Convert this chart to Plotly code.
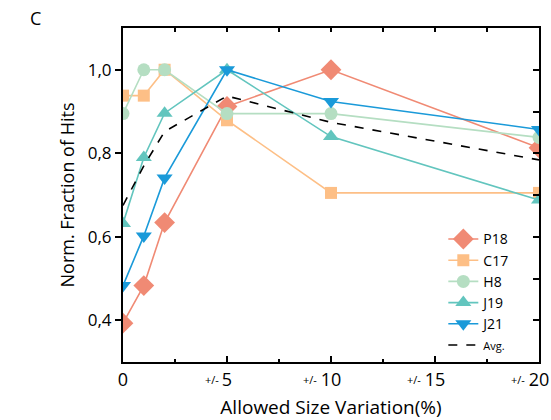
import plotly.graph_objects as go

# Allowed size variation (%) at which each sample was scored
variation = [0, 1, 2, 5, 10, 20]

# Normalised fraction of hits per sample
p18 = [0.393, 0.483, 0.634, 0.912, 1.000, 0.813]
c17 = [0.938, 0.938, 1.000, 0.879, 0.705, 0.705]
h8 = [0.895, 1.000, 1.000, 0.895, 0.895, 0.838]
j19 = [0.632, 0.790, 0.896, 1.000, 0.840, 0.688]
j21 = [0.483, 0.602, 0.741, 1.000, 0.924, 0.857]
avg = [0.675, 0.770, 0.852, 0.937, 0.874, 0.784]

x_tick_vals = [0, 5, 10, 15, 20]
x_tick_text = ["0", "5", "10", "15", "20"]
y_tick_vals = [0.4, 0.6, 0.8, 1.0]
y_tick_text = ["0,4", "0,6", "0,8", "1,0"]

FONT = "Open Sans"

series = [
    ("P18", p18, "#F08A74", "diamond", 16),
    ("C17", c17, "#FDBF86", "square", 12),
    ("H8", h8, "#B5DEC2", "circle", 13),
    ("J19", j19, "#62C5BE", "triangle-up", 14),
    ("J21", j21, "#1A9AD9", "triangle-down", 14),
]

fig = go.Figure()
for name, vals, color, symbol, size in series:
    fig.add_trace(go.Scatter(
        x=variation, y=vals, name=name, mode="lines+markers",
        line=dict(color=color, width=1.6),
        marker=dict(color=color, symbol=symbol, size=size),
    ))

fig.add_trace(go.Scatter(
    x=variation, y=avg, name="<span style='font-size:11px'>Avg.</span>",
    mode="lines", line=dict(color="black", width=1.6, dash="dash"),
))

axis_common = dict(showgrid=False, zeroline=False, linecolor="black",
                   linewidth=2, tickcolor="black", tickwidth=1.5,
                   automargin=False)

# Small "+/-" prefixes set just left of each non-zero tick number
annotations = []
for val, label in zip(x_tick_vals, x_tick_text):
    if val == 0:
        continue
    half_width = 5.5 * len(label)
    annotations.append(dict(
        text="+/-", x=val, xref="x", y=0, yref="paper",
        xanchor="right", yanchor="middle", yshift=-17,
        xshift=-(half_width + 1), showarrow=False,
        font=dict(size=11, family=FONT)))

annotations.append(dict(text="C", x=-0.21, y=1.03, xref="paper",
                        yref="paper", xanchor="center", yanchor="middle",
                        showarrow=False, font=dict(size=18, family=FONT)))

fig.update_layout(
    width=551, height=420,
    margin=dict(l=123, r=12, t=28, b=58),
    plot_bgcolor="white", paper_bgcolor="white",
    font=dict(family=FONT, color="black"),
    showlegend=True,
    legend=dict(x=0.77, y=0.415, xanchor="left", yanchor="top",
                bgcolor="rgba(0,0,0,0)", font=dict(size=14, family=FONT),
                tracegroupgap=0, itemwidth=30),
    xaxis=dict(range=[0, 20], tickmode="array", tickvals=x_tick_vals,
               ticktext=x_tick_text, ticks="inside", ticklen=6,
               tickfont=dict(size=18), ticklabeloverflow="allow",
               minor=dict(tickmode="array", tickvals=[2.5, 7.5, 12.5, 17.5],
                          ticks="inside", ticklen=3, tickcolor="black"),
               title=dict(text="Allowed Size Variation(%)",
                          font=dict(size=19), standoff=12),
               **axis_common),
    yaxis=dict(range=[0.3, 1.1], tickmode="array", tickvals=y_tick_vals,
               ticktext=y_tick_text, ticks="outside", ticklen=6,
               tickfont=dict(size=17),
               title=dict(text="Norm. Fraction of Hits",
                          font=dict(size=18), standoff=8),
               **axis_common),
    xaxis2=dict(overlaying="x", side="top", range=[0, 20], tickmode="array",
                tickvals=[2.5, 5, 7.5, 10, 12.5, 15, 17.5], ticks="inside",
                ticklen=4, showticklabels=False, **axis_common),
    yaxis2=dict(overlaying="y", side="right", range=[0.3, 1.1],
                tickmode="array",
                tickvals=[0.4, 0.5, 0.6, 0.7, 0.8, 0.9, 1.0],
                ticks="inside", ticklen=6, showticklabels=False,
                **axis_common),
    annotations=annotations,
)

# Empty trace so the mirrored top/right axes are drawn
fig.add_trace(go.Scatter(x=[None], y=[None], xaxis="x2", yaxis="y2",
                         showlegend=False, hoverinfo="skip"))

fig.write_html("out.html")
